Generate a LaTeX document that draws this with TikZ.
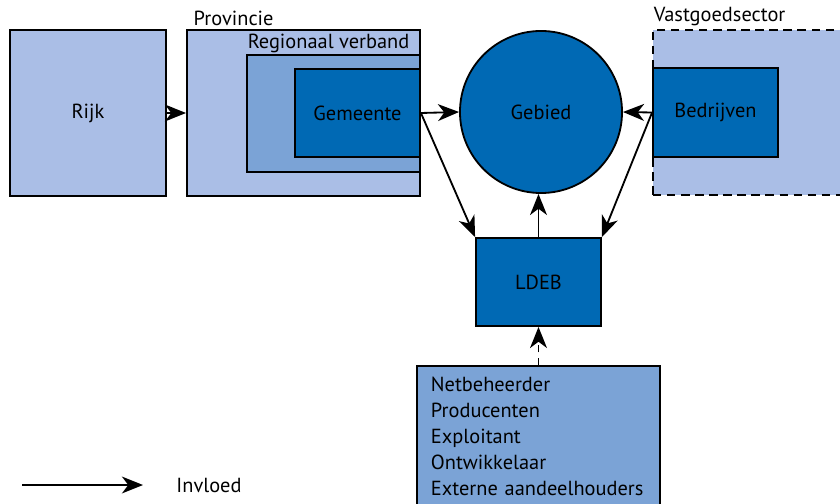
\documentclass[tikz,border=0pt]{standalone}
\usepackage{fontspec}
\setmainfont{PT Sans}
\usetikzlibrary{arrows.meta}
\definecolor{lichtblauw}{HTML}{AABEE6}
\definecolor{middenblauw}{HTML}{7BA3D6}
\definecolor{donkerblauw}{HTML}{0069B4}
\begin{document}
\begin{tikzpicture}[x=0.025cm, y=-0.025cm, font=\fontsize{14.5}{18.5}\selectfont,
    vak/.style={draw, line width=1.3pt, inner sep=0pt},
    kop/.style={anchor=south west, inner sep=1pt},
    invloed/.style={line width=1.3pt, -{Stealth[length=15pt, width=12pt, inset=4.5pt]}}]
  \useasboundingbox (0,0) rectangle (840,504);
  % overheden
  \node[vak, fill=lichtblauw, minimum width=3.9cm, minimum height=4.15cm] (rijk) at (88,113) {Rijk};
  \node[vak, fill=lichtblauw, minimum width=5.825cm, minimum height=4.15cm] (provincie) at (303.5,113) {};
  \node[vak, fill=middenblauw, minimum width=4.325cm, minimum height=2.925cm] (regio) at (333.5,113.5) {};
  \node[vak, fill=donkerblauw, minimum width=3.125cm, minimum height=2.2cm] (gemeente) at (357.5,113) {Gemeente};
  \node[kop] at ([xshift=0.15cm, yshift=1pt]provincie.north west) {Provincie};
  \node[kop] at (regio.north west) {Regionaal verband};
  % gebied en markt
  \node[vak, circle, fill=donkerblauw, minimum size=4.05cm] (gebied) at (541,112) {Gebied};
  \node[vak, dashed, dash pattern=on 6pt off 4pt, fill=lichtblauw, minimum width=6.175cm, minimum height=4.125cm] (vastgoed) at (776.5,112.5) {};
  \node[vak, fill=donkerblauw, minimum width=3.125cm, minimum height=2.225cm] (bedrijven) at (715.5,112.5) {Bedrijven};
  \node[kop] at ([yshift=1pt]vastgoed.north west) {Vastgoedsector};
  \node[vak, fill=donkerblauw, minimum width=3.125cm, minimum height=2.2cm] (ldeb) at (538.5,282) {LDEB};
  \node[vak, fill=middenblauw, minimum width=6.075cm, minimum height=3.5cm, text width=5.375cm, align=left, inner xsep=0.35cm] (partijen) at (538.5,436)
    {Netbeheerder\\Producenten\\Exploitant\\Ontwikkelaar\\Externe aandeelhouders};
  % invloeden
  \draw[invloed] (rijk) -- (provincie);
  \draw[invloed] (gemeente.east) -- (gebied.west);
  \draw[invloed] (gemeente.east) -- (ldeb.north west);
  \draw[invloed] (bedrijven.west) -- (gebied.east);
  \draw[invloed] (bedrijven.west) -- (ldeb.north east);
  \draw[invloed] (ldeb.north) -- (ldeb.north |- gebied.south);
  \draw[invloed, dash pattern=on 5pt off 4pt] (partijen.north) -- (ldeb.south);
  % legenda
  \coordinate (legA) at (22,485);
  \coordinate (legB) at (143,485);
  \draw[invloed] (legA) -- (legB);
  \node (legtekst) at (209,485) {Invloed};
\end{tikzpicture}
\end{document}
